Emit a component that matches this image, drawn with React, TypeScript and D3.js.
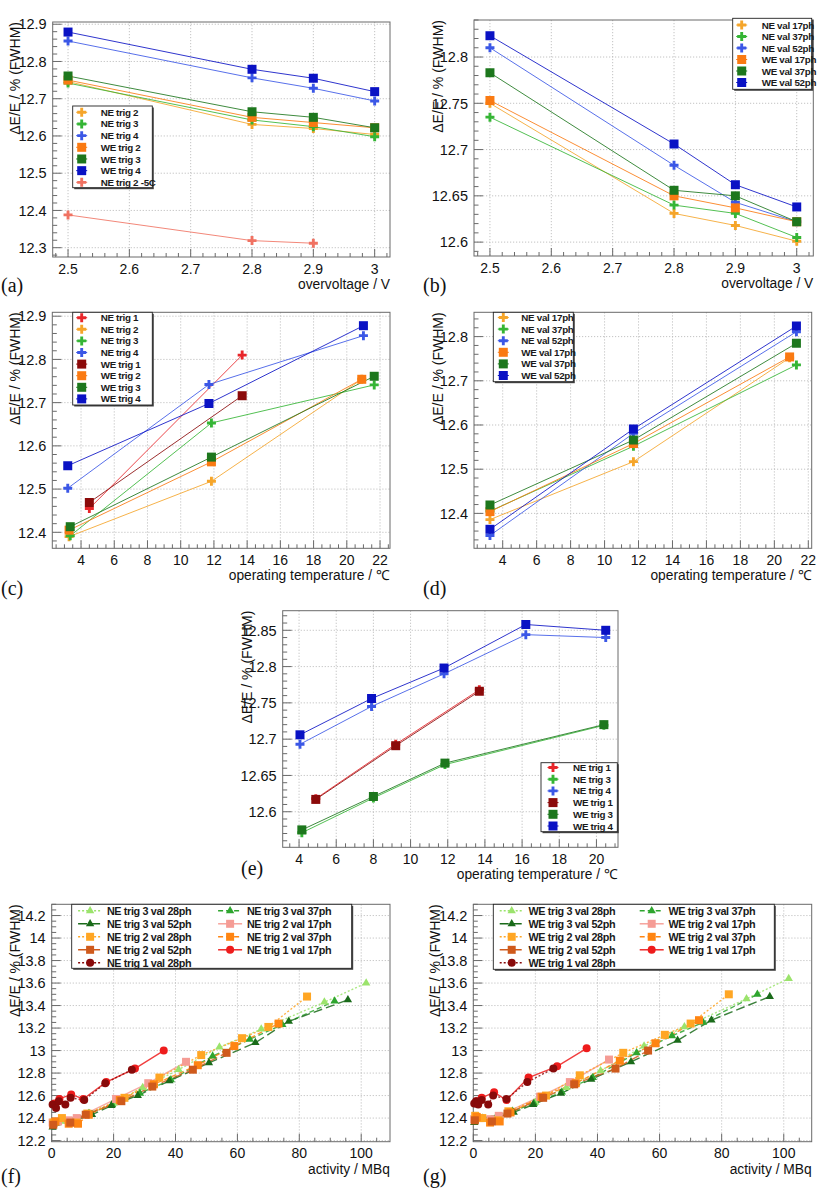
import React from 'react';
import * as d3 from 'd3';

const FONT = "'Liberation Sans', Arial, Helvetica, sans-serif";
const SERIF = "'Liberation Serif', 'DejaVu Serif', serif";

// ---------------- DATA ----------------
// (a) energy resolution vs overvoltage, trigger thresholds
const overvoltage = [2.5, 2.8, 2.9, 3.0];
const overvoltageM5C = [2.5, 2.8, 2.9];
const aNEtrig2 = [12.746, 12.631, 12.62, 12.604];
const aNEtrig3 = [12.742, 12.643, 12.625, 12.598];
const aNEtrig4 = [12.855, 12.756, 12.728, 12.694];
const aWEtrig2 = [12.75, 12.65, 12.636, 12.622];
const aWEtrig3 = [12.761, 12.665, 12.65, 12.622];
const aWEtrig4 = [12.879, 12.779, 12.755, 12.719];
const aNEtrig2m5C = [12.388, 12.319, 12.312];

// (b) energy resolution vs overvoltage, validation thresholds
const bNEval17 = [12.75, 12.631, 12.618, 12.601];
const bNEval37 = [12.735, 12.64, 12.631, 12.605];
const bNEval52 = [12.81, 12.683, 12.643, 12.622];
const bWEval17 = [12.753, 12.65, 12.637, 12.622];
const bWEval37 = [12.783, 12.656, 12.65, 12.622];
const bWEval52 = [12.823, 12.706, 12.662, 12.638];

// (c) vs operating temperature, trigger thresholds
const cTrig1T = [4.5, 13.7];
const cTrig2T = [3.28, 11.85, 20.9];
const cTrig3T = [3.35, 11.85, 21.65];
const cTrig4T = [3.2, 11.7, 21.0];
const cNEtrig1 = [12.455, 12.81];
const cNEtrig2 = [12.39, 12.518, 12.754];
const cNEtrig3 = [12.392, 12.653, 12.741];
const cNEtrig4 = [12.502, 12.742, 12.855];
const cWEtrig1 = [12.469, 12.716];
const cWEtrig2 = [12.405, 12.563, 12.754];
const cWEtrig3 = [12.413, 12.574, 12.761];
const cWEtrig4 = [12.554, 12.698, 12.878];

// (d) vs operating temperature, validation thresholds
const dVal17T = [3.25, 11.7, 20.9];
const dValT = [3.25, 11.7, 21.3];
const dNEval17 = [12.386, 12.517, 12.752];
const dNEval37 = [12.405, 12.552, 12.736];
const dNEval52 = [12.35, 12.581, 12.811];
const dWEval17 = [12.404, 12.558, 12.754];
const dWEval37 = [12.419, 12.566, 12.785];
const dWEval52 = [12.364, 12.591, 12.824];

// (e) vs operating temperature, second run
const eTrig1T = [4.9, 9.2, 13.7];
const eTrig3T = [4.15, 8.0, 11.85, 20.4];
const eTrig4T = [4.05, 7.9, 11.8, 16.2, 20.5];
const eNEtrig1 = [12.618, 12.693, 12.768];
const eNEtrig3 = [12.571, 12.619, 12.665, 12.719];
const eNEtrig4 = [12.693, 12.745, 12.79, 12.844, 12.84];
const eWEtrig1 = [12.617, 12.691, 12.766];
const eWEtrig3 = [12.575, 12.621, 12.667, 12.72];
const eWEtrig4 = [12.706, 12.756, 12.798, 12.858, 12.85];

// (f) NE vs activity
const fT3v28A = [0.5, 3, 12.2, 20, 29.4, 41, 54.2, 67.7, 88.1, 101.6];
const fT3v28 = [12.34, 12.37, 12.44, 12.53, 12.67, 12.83, 13.03, 13.19, 13.43, 13.6];
const fT3v37A = [0.5, 12, 19.5, 28.5, 38.5, 52, 64, 74.5, 91.4];
const fT3v37 = [12.35, 12.44, 12.52, 12.62, 12.74, 12.95, 13.1, 13.23, 13.44];
const fT3v52A = [0.3, 13, 19.3, 27.8, 38, 50.8, 65.8, 76.6, 95.7];
const fT3v52 = [12.32, 12.43, 12.51, 12.6, 12.73, 12.89, 13.07, 13.26, 13.45];
const fT2v17A = [0.3, 2, 5.5, 8.1, 20.8, 31.2, 43.4];
const fT2v17 = [12.36, 12.37, 12.38, 12.4, 12.57, 12.71, 12.9];
const fT2v28A = [0.6, 3.3, 8, 11.5, 23.5, 34.8, 48.3, 61.5, 70, 82.5];
const fT2v28 = [12.36, 12.4, 12.36, 12.44, 12.58, 12.76, 12.96, 13.11, 13.21, 13.48];
const fT2v37A = [1.2, 5.5, 8.5, 12, 22, 33, 47.2, 59, 73.3];
const fT2v37 = [12.37, 12.35, 12.35, 12.43, 12.56, 12.7, 12.87, 13.04, 13.24];
const fT2v52A = [0.5, 6, 11, 22.5, 32.5, 45.6, 56.5];
const fT2v52 = [12.34, 12.36, 12.43, 12.55, 12.68, 12.83, 12.98];
const fT1v17A = [0.9, 2.5, 6.3, 10.2, 17.6, 26.9, 36.2];
const fT1v17 = [12.53, 12.57, 12.61, 12.57, 12.72, 12.84, 13.0];
const fT1v28A = [0.3, 1.4, 2.3, 4.4, 6.1, 10.5, 17.3, 25.9];
const fT1v28 = [12.52, 12.49, 12.55, 12.52, 12.58, 12.56, 12.71, 12.83];

// (g) WE vs activity
const gT3v28A = [0.5, 3, 12.6, 20, 30, 41, 55, 68, 88, 101.6];
const gT3v28 = [12.38, 12.4, 12.46, 12.54, 12.67, 12.82, 13.04, 13.21, 13.46, 13.64];
const gT3v37A = [0.5, 12.6, 19.5, 28.5, 38.5, 52.6, 64, 74, 91.5];
const gT3v37 = [12.38, 12.46, 12.53, 12.63, 12.76, 12.98, 13.13, 13.25, 13.5];
const gT3v52A = [0.3, 13, 19.3, 28.2, 38, 50.8, 65.8, 76.7, 95.5];
const gT3v52 = [12.36, 12.45, 12.52, 12.62, 12.745, 12.9, 13.09, 13.27, 13.48];
const gT2v17A = [0.3, 2, 5.5, 8.2, 21.5, 31.1, 43.7];
const gT2v17 = [12.39, 12.4, 12.39, 12.42, 12.59, 12.72, 12.92];
const gT2v28A = [0.6, 2.9, 8, 11.3, 23.4, 34.3, 48.3, 61.7, 70, 82.3];
const gT2v28 = [12.42, 12.4, 12.38, 12.46, 12.6, 12.78, 12.98, 13.14, 13.24, 13.5];
const gT2v37A = [1.1, 5.4, 8.5, 12, 22, 33, 47.2, 58.7, 72.7];
const gT2v37 = [12.41, 12.36, 12.37, 12.45, 12.59, 12.71, 12.91, 13.065, 13.27];
const gT2v52A = [0.5, 6, 11, 22.5, 32.5, 45.8, 56.3];
const gT2v52 = [12.38, 12.37, 12.44, 12.58, 12.7, 12.84, 13.0];
const gT1v17A = [1.1, 2.7, 6.7, 10.7, 17.8, 27, 36.5];
const gT1v17 = [12.55, 12.58, 12.63, 12.56, 12.76, 12.86, 13.02];
const gT1v28A = [0.3, 0.9, 1.6, 2.7, 4.8, 6.4, 10.7, 17.4, 25.8];
const gT1v28 = [12.53, 12.55, 12.52, 12.56, 12.52, 12.6, 12.57, 12.72, 12.84];

// ---------------- STYLE ----------------
const C = {
  neOrange: '#f5a52a', weOrange: '#fa7a12',
  neGreen: '#35b535', weGreen: '#1d771d',
  neBlue: '#3b57e6', weBlue: '#0a12c4',
  salmon: '#f07262', neRed: '#e8262a', weRed: '#8b0a0a',
  ltGreen: '#9be36c', green: '#2ea52e', dkGreen: '#1a6b1a',
  pink: '#f59c95', ltOrange: '#ffa624', orange: '#ff8512', burnt: '#cf5a1c',
  red: '#ee1c1c', dkRed: '#880a0a',
};
const DOT = '2,2';
const DASH = '5,3';
const LDASH = '9,4';

type Marker = 'cross' | 'square' | 'triangle' | 'circle';
interface Series { label: string; x: number[]; y: number[]; color: string; marker: Marker; dash?: string; lw?: number; ms?: number; }
interface LegendCfg { x: number; y: number; w: number; h: number; row0: number; step: number; cols: number[]; textDx: number; lineHalf: number; fs: number; ls: number; }
interface PanelCfg {
  left: number; right: number; top: number; bottom: number;
  xDomain: [number, number]; yDomain: [number, number];
  xTick: [number, number, number]; yTick: [number, number, number];
  xMinor: number; yMinor: number;
  xTitle: string; yTitleX: number; letter: string; letterX: number; letterY: number;
  series: Series[]; legend: LegendCfg;
}

function stepRange(a: number, b: number, s: number): number[] {
  const n = Math.round((b - a) / s);
  return d3.range(n + 1).map(i => +(a + i * s).toFixed(6));
}
const fmt = (v: number) => String(+v.toFixed(4));

function markerPath(m: Marker, s: number): string {
  if (m === 'cross') {
    const a = s / 2, t = s * 0.16;
    return `M${-t},${-a}H${t}V${-t}H${a}V${t}H${t}V${a}H${-t}V${t}H${-a}V${-t}H${-t}Z`;
  }
  if (m === 'square') { const a = s / 2; return `M${-a},${-a}H${a}V${a}H${-a}Z`; }
  if (m === 'triangle') return d3.symbol(d3.symbolTriangle, s * s * 0.42)() as string;
  return d3.symbol(d3.symbolCircle, Math.PI * (s / 2) * (s / 2))() as string;
}

function Panel({ cfg }: { cfg: PanelCfg }) {
  const x = d3.scaleLinear().domain(cfg.xDomain).range([cfg.left, cfg.right]);
  const y = d3.scaleLinear().domain(cfg.yDomain).range([cfg.bottom, cfg.top]);
  const xMaj = stepRange(...cfg.xTick);
  const yMaj = stepRange(...cfg.yTick);
  const xMin = stepRange(Math.ceil(cfg.xDomain[0] / cfg.xMinor - 1e-6) * cfg.xMinor, Math.floor(cfg.xDomain[1] / cfg.xMinor + 1e-6) * cfg.xMinor, cfg.xMinor);
  const yMin = stepRange(Math.ceil(cfg.yDomain[0] / cfg.yMinor - 1e-6) * cfg.yMinor, Math.floor(cfg.yDomain[1] / cfg.yMinor + 1e-6) * cfg.yMinor, cfg.yMinor);
  const line = d3.line<[number, number]>().x(d => x(d[0])).y(d => y(d[1]));
  const L = cfg.legend;
  const axisCol = '#6a6a6a';
  return (
    <g>
      {/* grid */}
      {xMaj.map(v => <line key={'gx' + v} x1={x(v)} x2={x(v)} y1={cfg.top} y2={cfg.bottom} stroke="#b4b4b4" strokeWidth={0.8} strokeDasharray="1.2,1.8" />)}
      {yMaj.map(v => <line key={'gy' + v} x1={cfg.left} x2={cfg.right} y1={y(v)} y2={y(v)} stroke="#b4b4b4" strokeWidth={0.8} strokeDasharray="1.2,1.8" />)}
      {/* frame */}
      <rect x={cfg.left} y={cfg.top} width={cfg.right - cfg.left} height={cfg.bottom - cfg.top} fill="none" stroke={axisCol} strokeWidth={1} />
      {/* ticks */}
      {xMin.map(v => <line key={'tx' + v} x1={x(v)} x2={x(v)} y1={cfg.bottom} y2={cfg.bottom - (xMaj.some(m => Math.abs(m - v) < 1e-6) ? 8 : 4)} stroke={axisCol} strokeWidth={1} />)}
      {yMin.map(v => <line key={'ty' + v} x1={cfg.left} x2={cfg.left + (yMaj.some(m => Math.abs(m - v) < 1e-6) ? 9 : 4.5)} y1={y(v)} y2={y(v)} stroke={axisCol} strokeWidth={1} />)}
      {/* tick labels */}
      {xMaj.map(v => <text key={'lx' + v} x={x(v)} y={cfg.bottom + 16.5} textAnchor="middle" fontSize={14} fontFamily={FONT} fill="#111">{fmt(v)}</text>)}
      {yMaj.map(v => <text key={'ly' + v} x={cfg.left - 6} y={y(v)} dy="0.36em" textAnchor="end" fontSize={14.5} fontFamily={FONT} fill="#111">{fmt(v)}</text>)}
      {/* titles */}
      <text x={cfg.right} y={cfg.bottom + 32} textAnchor="end" fontSize={13.8} fontFamily={FONT} fill="#111">{cfg.xTitle}</text>
      <text transform={`translate(${cfg.yTitleX},${cfg.top}) rotate(-90)`} textAnchor="end" fontSize={14} fontFamily={FONT} fill="#111">ΔE/E / % (FWHM)</text>
      <text x={cfg.letterX} y={cfg.letterY} fontSize={20} fontFamily={SERIF} fill="#111">{cfg.letter}</text>
      {/* series lines */}
      {cfg.series.map((s, i) => (
        <path key={'l' + i} d={line(s.x.map((v, k) => [v, s.y[k]] as [number, number])) as string} fill="none" stroke={s.color} strokeWidth={s.lw ?? 1} strokeDasharray={s.dash} strokeOpacity={0.85} />
      ))}
      {cfg.series.map((s, i) => (
        <g key={'m' + i}>
          {s.x.map((v, k) => <path key={k} d={markerPath(s.marker, s.ms ?? 9)} transform={`translate(${x(v)},${y(s.y[k])})`} fill={s.color} />)}
        </g>
      ))}
      {/* legend */}
      <rect x={L.x + 1.5} y={L.y + 1.5} width={L.w} height={L.h} fill="#444" />
      <rect x={L.x} y={L.y} width={L.w} height={L.h} fill="#fff" stroke="#222" strokeWidth={0.9} />
      {cfg.series.map((s, i) => {
        const col = i % L.cols.length;
        const row = Math.floor(i / L.cols.length);
        const mx = L.x + L.cols[col];
        const my = L.row0 + row * L.step;
        return (
          <g key={'lg' + i}>
            <line x1={mx - L.lineHalf} x2={mx + L.lineHalf} y1={my} y2={my} stroke={s.color} strokeWidth={s.lw ?? 1} strokeDasharray={s.dash} />
            <path d={markerPath(s.marker, s.ms ?? 9)} transform={`translate(${mx},${my})`} fill={s.color} />
            <text x={mx + L.textDx} y={my} dy="0.36em" fontSize={L.fs} fontWeight="bold" letterSpacing={L.ls} fontFamily={FONT} fill="#1a1a1a">{s.label}</text>
          </g>
        );
      })}
    </g>
  );
}

const ser = (label: string, x: number[], y: number[], color: string, marker: Marker, extra: Partial<Series> = {}): Series => ({ label, x, y, color, marker, ...extra });

const legSmall = (x: number, y: number, w: number, h: number, row0: number, step: number, mdx: number, tdx: number): LegendCfg =>
  ({ x, y, w, h, row0, step, cols: [mdx], textDx: tdx, lineHalf: 5.5, fs: 9.8, ls: -0.3 });
const legBig = (x: number, y: number, w: number, h: number): LegendCfg =>
  ({ x, y, w, h, row0: y + 6.5, step: 13, cols: [18.4, 158.4], textDx: 16.8, lineHalf: 12, fs: 10.8, ls: -0.35 });

const actSeries = (pfx: string, d: number[][]): Series[] => [
  ser(`${pfx} trig 3 val 28ph`, d[0], d[1], C.ltGreen, 'triangle', { dash: DOT, lw: 1.4, ms: 8.5 }),
  ser(`${pfx} trig 3 val 37ph`, d[2], d[3], C.green, 'triangle', { dash: DASH, lw: 1.4, ms: 8.5 }),
  ser(`${pfx} trig 3 val 52ph`, d[4], d[5], C.dkGreen, 'triangle', { dash: LDASH, lw: 1.4, ms: 8.5 }),
  ser(`${pfx} trig 2 val 17ph`, d[6], d[7], C.pink, 'square', { lw: 1.4, ms: 8 }),
  ser(`${pfx} trig 2 val 28ph`, d[8], d[9], C.ltOrange, 'square', { dash: DOT, lw: 1.4, ms: 8 }),
  ser(`${pfx} trig 2 val 37ph`, d[10], d[11], C.orange, 'square', { dash: DASH, lw: 1.4, ms: 8 }),
  ser(`${pfx} trig 2 val 52ph`, d[12], d[13], C.burnt, 'square', { dash: LDASH, lw: 1.4, ms: 8 }),
  ser(`${pfx} trig 1 val 17ph`, d[14], d[15], C.red, 'circle', { lw: 1.4, ms: 8 }),
  ser(`${pfx} trig 1 val 28ph`, d[16], d[17], C.dkRed, 'circle', { dash: DOT, lw: 1.4, ms: 8 }),
];

const panels: PanelCfg[] = [
  {
    left: 52.7, right: 390, top: 22, bottom: 257, xDomain: [2.475, 3.025], yDomain: [12.275, 12.906],
    xTick: [2.5, 3, 0.1], yTick: [12.3, 12.9, 0.1], xMinor: 0.02, yMinor: 0.02,
    xTitle: 'overvoltage / V', yTitleX: 20, letter: '(a)', letterX: 1, letterY: 292,
    series: [
      ser('NE trig 2', overvoltage, aNEtrig2, C.neOrange, 'cross'),
      ser('NE trig 3', overvoltage, aNEtrig3, C.neGreen, 'cross'),
      ser('NE trig 4', overvoltage, aNEtrig4, C.neBlue, 'cross'),
      ser('WE trig 2', overvoltage, aWEtrig2, C.weOrange, 'square'),
      ser('WE trig 3', overvoltage, aWEtrig3, C.weGreen, 'square'),
      ser('WE trig 4', overvoltage, aWEtrig4, C.weBlue, 'square'),
      ser('NE trig 2 -5C', overvoltageM5C, aNEtrig2m5C, C.salmon, 'cross'),
    ],
    legend: legSmall(72.7, 106, 79.6, 81.7, 112.3, 11.67, 9, 19),
  },
  {
    left: 474, right: 813.3, top: 20, bottom: 256, xDomain: [2.474, 3.027], yDomain: [12.585, 12.84],
    xTick: [2.5, 3, 0.1], yTick: [12.6, 12.8, 0.05], xMinor: 0.02, yMinor: 0.01,
    xTitle: 'overvoltage / V', yTitleX: 443, letter: '(b)', letterX: 423, letterY: 292,
    series: [
      ser('NE val 17ph', overvoltage, bNEval17, C.neOrange, 'cross'),
      ser('NE val 37ph', overvoltage, bNEval37, C.neGreen, 'cross'),
      ser('NE val 52ph', overvoltage, bNEval52, C.neBlue, 'cross'),
      ser('WE val 17ph', overvoltage, bWEval17, C.weOrange, 'square'),
      ser('WE val 37ph', overvoltage, bWEval37, C.weGreen, 'square'),
      ser('WE val 52ph', overvoltage, bWEval52, C.weBlue, 'square'),
    ],
    legend: legSmall(732.7, 18.3, 79, 71, 25, 11.5, 9, 20),
  },
  {
    left: 52.3, right: 390, top: 312.3, bottom: 548.3, xDomain: [2.27, 22.6], yDomain: [12.363, 12.909],
    xTick: [4, 22, 2], yTick: [12.4, 12.9, 0.1], xMinor: 0.5, yMinor: 0.02,
    xTitle: 'operating temperature / ℃', yTitleX: 20, letter: '(c)', letterX: 1, letterY: 595,
    series: [
      ser('NE trig 1', cTrig1T, cNEtrig1, C.neRed, 'cross'),
      ser('NE trig 2', cTrig2T, cNEtrig2, C.neOrange, 'cross'),
      ser('NE trig 3', cTrig3T, cNEtrig3, C.neGreen, 'cross'),
      ser('NE trig 4', cTrig4T, cNEtrig4, C.neBlue, 'cross'),
      ser('WE trig 1', cTrig1T, cWEtrig1, C.weRed, 'square'),
      ser('WE trig 2', cTrig2T, cWEtrig2, C.weOrange, 'square'),
      ser('WE trig 3', cTrig3T, cWEtrig3, C.weGreen, 'square'),
      ser('WE trig 4', cTrig4T, cWEtrig4, C.weBlue, 'square'),
    ],
    legend: legSmall(72.7, 312.3, 79.6, 92.7, 317.7, 11.6, 9, 19),
  },
  {
    left: 474, right: 811.7, top: 312.3, bottom: 548.3, xDomain: [2.31, 22.2], yDomain: [12.321, 12.855],
    xTick: [4, 22, 2], yTick: [12.4, 12.8, 0.1], xMinor: 0.5, yMinor: 0.02,
    xTitle: 'operating temperature / ℃', yTitleX: 443, letter: '(d)', letterX: 423, letterY: 595,
    series: [
      ser('NE val 17ph', dVal17T, dNEval17, C.neOrange, 'cross'),
      ser('NE val 37ph', dValT, dNEval37, C.neGreen, 'cross'),
      ser('NE val 52ph', dValT, dNEval52, C.neBlue, 'cross'),
      ser('WE val 17ph', dVal17T, dWEval17, C.weOrange, 'square'),
      ser('WE val 37ph', dValT, dWEval37, C.weGreen, 'square'),
      ser('WE val 52ph', dValT, dWEval52, C.weBlue, 'square'),
    ],
    legend: legSmall(493.3, 312.3, 80, 69.4, 317.5, 11.6, 10, 18),
  },
  {
    left: 282.7, right: 618, top: 610.7, bottom: 847.3, xDomain: [3.12, 21.16], yDomain: [12.551, 12.877],
    xTick: [4, 20, 2], yTick: [12.6, 12.85, 0.05], xMinor: 0.5, yMinor: 0.01,
    xTitle: 'operating temperature / ℃', yTitleX: 252, letter: '(e)', letterX: 241, letterY: 875,
    series: [
      ser('NE trig 1', eTrig1T, eNEtrig1, C.neRed, 'cross'),
      ser('NE trig 3', eTrig3T, eNEtrig3, C.neGreen, 'cross'),
      ser('NE trig 4', eTrig4T, eNEtrig4, C.neBlue, 'cross'),
      ser('WE trig 1', eTrig1T, eWEtrig1, C.weRed, 'square'),
      ser('WE trig 3', eTrig3T, eWEtrig3, C.weGreen, 'square'),
      ser('WE trig 4', eTrig4T, eWEtrig4, C.weBlue, 'square'),
    ],
    legend: legSmall(541, 762.7, 76.3, 69, 767.5, 11.7, 12, 20),
  },
  {
    left: 51.7, right: 390, top: 904.3, bottom: 1141.7, xDomain: [0, 109.3], yDomain: [12.19, 14.3],
    xTick: [0, 100, 20], yTick: [12.2, 14.2, 0.2], xMinor: 5, yMinor: 0.05,
    xTitle: 'activity / MBq', yTitleX: 20, letter: '(f)', letterX: 1, letterY: 1183,
    series: actSeries('NE', [fT3v28A, fT3v28, fT3v37A, fT3v37, fT3v52A, fT3v52, fT2v17A, fT2v17, fT2v28A, fT2v28, fT2v37A, fT2v37, fT2v52A, fT2v52, fT1v17A, fT1v17, fT1v28A, fT1v28]),
    legend: legBig(71.7, 904.3, 280, 64),
  },
  {
    left: 473.3, right: 811.7, top: 904.3, bottom: 1141.7, xDomain: [0, 109], yDomain: [12.19, 14.3],
    xTick: [0, 100, 20], yTick: [12.2, 14.2, 0.2], xMinor: 5, yMinor: 0.05,
    xTitle: 'activity / MBq', yTitleX: 440, letter: '(g)', letterX: 423, letterY: 1183,
    series: actSeries('WE', [gT3v28A, gT3v28, gT3v37A, gT3v37, gT3v52A, gT3v52, gT2v17A, gT2v17, gT2v28A, gT2v28, gT2v37A, gT2v37, gT2v52A, gT2v52, gT1v17A, gT1v17, gT1v28A, gT1v28]),
    legend: legBig(493.3, 904.3, 281, 65),
  },
];

export default function App() {
  return (
    <svg width={827} height={1190} viewBox="0 0 827 1190" style={{ position: 'absolute', left: 0, top: 0, background: '#fff' }}>
      <rect width={827} height={1190} fill="#fff" />
      {panels.map((p, i) => <Panel key={i} cfg={p} />)}
    </svg>
  );
}
